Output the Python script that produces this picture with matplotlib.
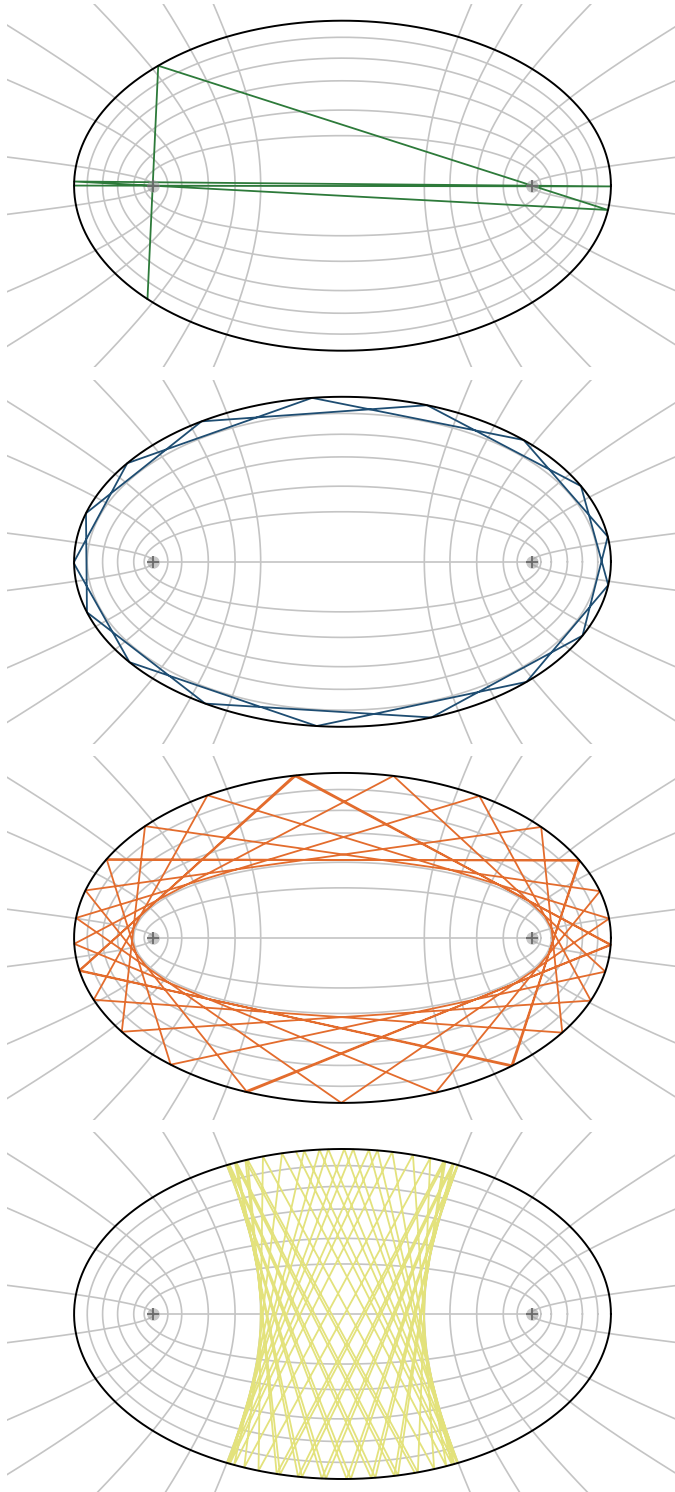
import numpy as np
import matplotlib.pyplot as plt

# Elliptic billiard in confocal coordinates: foci at (+-1, 0),
# table x^2/2 + y^2 = 1 (semi-axes sqrt(2) and 1).
TABLE_A = np.sqrt(2.0)
TABLE_B = 1.0

# confocal grid: ellipses by semi-major axis, hyperbolas by x-axis crossing
grid_ellipse_a = [1.045, 1.10, 1.185, 1.264, 1.345]
grid_hyperbola_x = [0.431, 0.566, 0.707, 0.847, 0.920, 0.993]

# one trajectory per panel
traj_colors = ["#2d7a3a", "#1e4d72", "#e36c2d", "#e3e27c"]
traj_caustic_x = [1.0, 1.349, 1.106, 0.431]    # caustic crossing of the x-axis (1.0 = through foci)
traj_start_t = [223.4, 180.0, 151.8, 100.0]    # eccentric anomaly of the first bounce, degrees
traj_heading = [88.0, 64.0, 0.0, -80.0]        # rough direction of the first chord, degrees
traj_bounces = [4, 16, 30, 50]


def ellipse_pts(a, b, n=400):
    t = np.linspace(0, 2 * np.pi, n)
    return a * np.cos(t), b * np.sin(t)


def inward_tangent(p, lam, heading):
    """Direction from p touching the confocal conic with parameter lam."""
    pa = 1.0 / (TABLE_A ** 2 - lam)
    qb = 1.0 / (TABLE_B ** 2 - lam)
    k = pa * p[0] ** 2 + qb * p[1] ** 2 - 1.0

    def f(th):
        dx, dy = np.cos(th), np.sin(th)
        return (pa * p[0] * dx + qb * p[1] * dy) ** 2 - (pa * dx ** 2 + qb * dy ** 2) * k

    th = np.linspace(0, 2 * np.pi, 7201)
    fv = f(th)
    roots = []
    for i in np.nonzero(np.sign(fv[:-1]) != np.sign(fv[1:]))[0]:
        lo, hi = th[i], th[i + 1]
        for _ in range(50):
            mid = 0.5 * (lo + hi)
            if np.sign(f(mid)) == np.sign(f(lo)):
                lo = mid
            else:
                hi = mid
        roots.append(0.5 * (lo + hi))
    nrm = np.array([p[0] / TABLE_A ** 2, p[1] / TABLE_B ** 2])
    h = np.radians(heading)
    best = None
    for r in roots:
        d = np.array([np.cos(r), np.sin(r)])
        if d @ nrm >= 0:
            continue
        diff = abs((r - h + np.pi) % (2 * np.pi) - np.pi)
        if best is None or diff < best[0]:
            best = (diff, d)
    return best[1]


def billiard(t0, caustic_x, heading, bounces):
    p = np.array([TABLE_A * np.cos(np.radians(t0)), TABLE_B * np.sin(np.radians(t0))])
    if np.isclose(caustic_x, 1.0):
        # focal orbit: aim at the nearer focus
        f = np.array([np.sign(p[0]) * 1.0, 0.0])
        d = (f - p) / np.linalg.norm(f - p)
    else:
        d = inward_tangent(p, TABLE_A ** 2 - caustic_x ** 2, heading)
    pts = [p.copy()]
    for _ in range(bounces + 1):
        qa = d[0] ** 2 / TABLE_A ** 2 + d[1] ** 2 / TABLE_B ** 2
        qb = 2 * (p[0] * d[0] / TABLE_A ** 2 + p[1] * d[1] / TABLE_B ** 2)
        qc = p[0] ** 2 / TABLE_A ** 2 + p[1] ** 2 / TABLE_B ** 2 - 1
        s = (-qb + np.sqrt(max(qb * qb - 4 * qa * qc, 0))) / (2 * qa)
        p = p + s * d
        pts.append(p.copy())
        n = np.array([p[0] / TABLE_A ** 2, p[1] / TABLE_B ** 2])
        n /= np.linalg.norm(n)
        d = d - 2 * (d @ n) * n
    return np.array(pts)


def draw_grid(ax):
    grey = "#c4c4c4"
    for a in grid_ellipse_a:
        x, y = ellipse_pts(a, np.sqrt(a * a - 1))
        ax.plot(x, y, color=grey, lw=1.2, zorder=1)
    mu = np.linspace(-2.4, 2.4, 400)
    for x0 in grid_hyperbola_x:
        nu = np.arccos(x0)
        for sx in (1, -1):
            ax.plot(sx * np.cosh(mu) * np.cos(nu), np.sinh(mu) * np.sin(nu),
                    color=grey, lw=1.2, zorder=1)
    ax.plot([-1, 1], [0, 0], color=grey, lw=1.2, zorder=1)
    x, y = ellipse_pts(TABLE_A, TABLE_B)
    ax.plot(x, y, color="black", lw=1.4, zorder=3)
    ax.plot([-1, 1], [0, 0], "o", ms=9, color="#9a9a9a", alpha=0.55, mec="none", zorder=4)
    ax.plot([-1, 1], [0, 0], "+", ms=8, mew=1.3, color="#6a6a6a", zorder=5)


fig = plt.figure(figsize=(6.75, 14.92), dpi=100)
W, H = 675.0, 1492.0
for k in range(4):
    cy = 185.7 + 376.1 * k
    ax = fig.add_axes([7.3 / W, 1 - (cy + 181.7) / H, 670.4 / W, 363.4 / H])
    ax.set_xlim(-335.2 / 189.8, 335.2 / 189.8)
    ax.set_ylim(-181.7 / 165.0, 181.7 / 165.0)
    ax.axis("off")
    draw_grid(ax)
    pts = billiard(traj_start_t[k], traj_caustic_x[k], traj_heading[k], traj_bounces[k])
    ax.plot(pts[:, 0], pts[:, 1], color=traj_colors[k], lw=1.3, zorder=2)

fig.savefig("out.png", dpi=100, facecolor="white")
